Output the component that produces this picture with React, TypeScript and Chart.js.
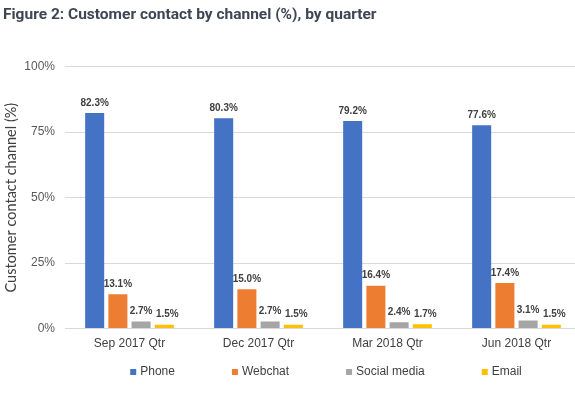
import React, { useEffect, useRef } from "react";
import { Chart, registerables } from "chart.js";

Chart.register(...registerables);

const categories = ["Sep 2017 Qtr", "Dec 2017 Qtr", "Mar 2018 Qtr", "Jun 2018 Qtr"];
const phone = [82.3, 80.3, 79.2, 77.6];
const webchat = [13.1, 15.0, 16.4, 17.4];
const socialMedia = [2.7, 2.7, 2.4, 3.1];
const email = [1.5, 1.5, 1.7, 1.5];
const seriesNames = ["Phone", "Webchat", "Social media", "Email"];
const seriesColors = ["#4472C4", "#ED7D31", "#A5A5A5", "#FFC000"];
const yTicks = [0, 25, 50, 75, 100];
const titleText = "Figure 2: Customer contact by channel (%), by quarter";
const yTitle = "Customer contact channel (%)";

const dataLabelPlugin = {
  id: "dataLabels",
  afterDatasetsDraw(chart: any) {
    const ctx = chart.ctx;
    ctx.save();
    ctx.font = "bold 10px 'Liberation Sans', Arial, sans-serif";
    ctx.fillStyle = "#404040";
    ctx.textAlign = "center";
    ctx.textBaseline = "bottom";
    chart.data.datasets.forEach((ds: any, di: number) => {
      const meta = chart.getDatasetMeta(di);
      meta.data.forEach((bar: any, i: number) => {
        const v = ds.data[i];
        ctx.fillText(v.toFixed(1) + "%", bar.x + (ds.labelDx || 0), bar.y - 5);
      });
    });
    ctx.restore();
  },
};

const customLegendPlugin = {
  id: "customLegend",
  afterDraw(chart: any) {
    const ctx = chart.ctx;
    const box = 6;
    const gapBox = 4;
    const gapItem = 57;
    ctx.save();
    ctx.font = "12px 'Liberation Sans', Arial, sans-serif";
    ctx.textBaseline = "middle";
    ctx.textAlign = "left";
    const items = chart.data.datasets.map((ds: any) => ({
      text: ds.label,
      color: ds.backgroundColor,
      w: box + gapBox + ctx.measureText(ds.label).width,
    }));
    const total = items.reduce((s: number, it: any) => s + it.w, 0) + gapItem * (items.length - 1);
    const ca = chart.chartArea;
    let x = (ca.left + ca.right) / 2 - total / 2 + 3;
    const y = 372;
    items.forEach((it: any) => {
      ctx.fillStyle = it.color;
      ctx.fillRect(x, y - box / 2, box, box);
      ctx.fillStyle = "#404040";
      ctx.fillText(it.text, x + box + gapBox, y);
      x += it.w + gapItem;
    });
    ctx.restore();
  },
};

export default function App() {
  const canvasRef = useRef<HTMLCanvasElement | null>(null);

  useEffect(() => {
    if (!canvasRef.current) return;
    const values = [phone, webchat, socialMedia, email];
    const chart = new Chart(canvasRef.current, {
      type: "bar",
      data: {
        labels: categories,
        datasets: values.map((d, i) => ({
          label: seriesNames[i],
          data: d,
          backgroundColor: seriesColors[i],
          borderWidth: 0,
          categoryPercentage: 0.72,
          barPercentage: 0.82,
          labelDx: i === 3 ? 3 : 0,
        })) as any,
      },
      options: {
        responsive: false,
        animation: false,
        devicePixelRatio: 1,
        layout: { padding: { left: 3, right: 4, top: 0, bottom: 36 } },
        plugins: {
          legend: { display: false },
          tooltip: { enabled: false },
          title: {
            display: true,
            text: titleText,
            align: "start",
            color: "#3d4652",
            font: { family: "Roboto, 'Liberation Sans', sans-serif", size: 15.5, weight: "bold" },
            padding: { top: 6, bottom: 42 },
          },
        },
        scales: {
          x: {
            grid: { display: false, drawTicks: false },
            border: { display: false },
            ticks: {
              color: "#404040",
              padding: 8,
              font: { family: "'Liberation Sans', Arial, sans-serif", size: 12 },
            },
          },
          y: {
            min: 0,
            max: 100,
            afterBuildTicks: (axis: any) => {
              axis.ticks = yTicks.map((v) => ({ value: v }));
            },
            afterFit: (axis: any) => {
              axis.width = 62;
            },
            grid: { color: "#d9d9d9", lineWidth: 1, drawTicks: false },
            border: { display: false },
            ticks: {
              color: "#595959",
              padding: 10,
              font: { family: "'Liberation Sans', Arial, sans-serif", size: 12 },
              callback: (v: any) => v + "%",
            },
            title: {
              display: true,
              text: yTitle,
              color: "#404040",
              font: { family: "Lato, 'Liberation Sans', sans-serif", size: 14.5 },
              padding: { top: 0, bottom: 4 },
            },
          },
        },
      },
      plugins: [dataLabelPlugin, customLegendPlugin],
    } as any);
    return () => chart.destroy();
  }, []);

  return (
    <div
      style={{
        position: "fixed",
        left: 0,
        top: 0,
        width: 575,
        height: 395,
        overflow: "hidden",
        background: "#ffffff",
      }}
    >
      <canvas ref={canvasRef} width={585} height={395} style={{ width: 585, height: 395, display: "block" }} />
    </div>
  );
}
